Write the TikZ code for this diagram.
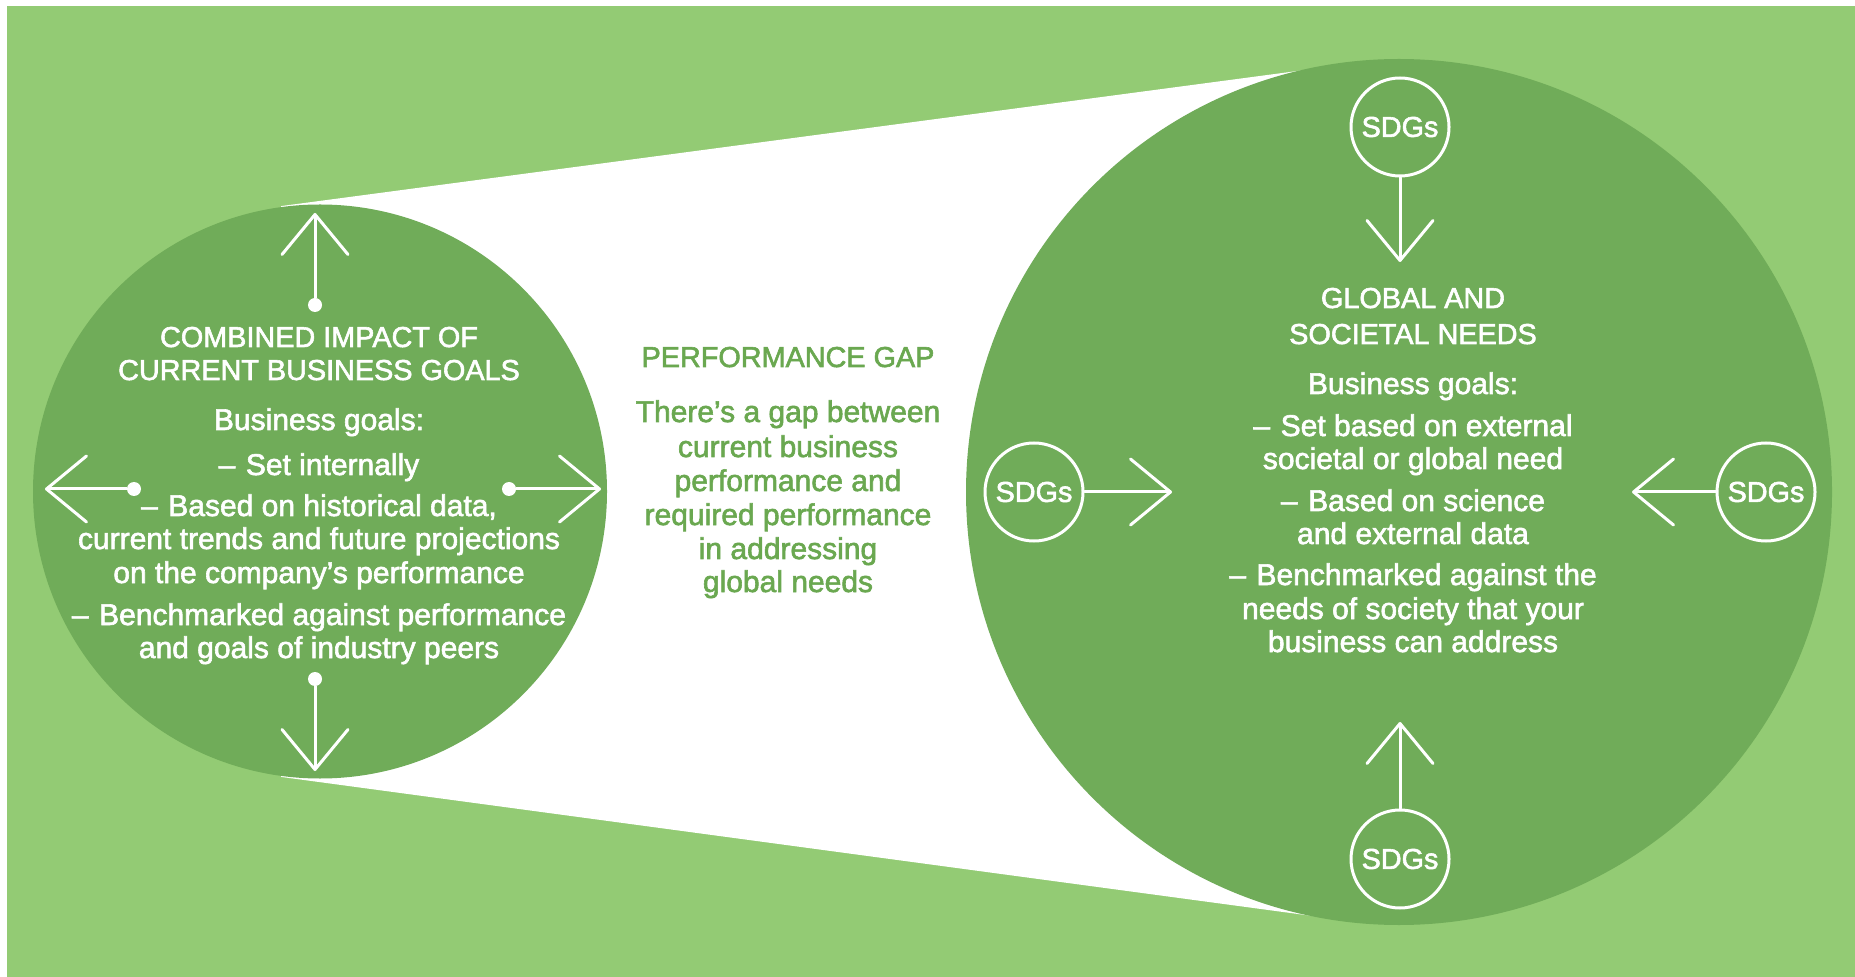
\documentclass[tikz,border=0pt]{standalone}
\usepackage{fontspec}
\setmainfont[FakeBold=2]{Liberation Sans}
\usetikzlibrary{arrows.meta}
\definecolor{bgG}{RGB}{147,203,116}
\definecolor{cG}{RGB}{112,172,89}
\definecolor{tG}{RGB}{106,168,80}
\tikzset{
  body/.style={text=white, font=\fontsize{15}{17}\selectfont, anchor=base, inner sep=0pt},
  ttl/.style={text=white, font=\fontsize{14.4}{17}\selectfont, anchor=base, inner sep=0pt},
  midttl/.style={text=tG, font=\fontsize{14.4}{17}\selectfont, anchor=base, inner sep=0pt},
  midbody/.style={text=tG, font=\fontsize{15}{17}\selectfont, anchor=base, inner sep=0pt},
  arr/.style={draw=white, line width=1.5pt, line cap=round,
    -{Straight Barb[length=20pt,width=33pt,line cap=round,line join=round]}},
  dotn/.style={circle, fill=white, minimum size=7pt, inner sep=0pt},
  sdg/.style={circle, draw=white, line width=1.5pt, minimum size=49pt, inner sep=0pt,
    text=white, font=\fontsize{14.4}{17}\selectfont},
}
\newcommand{\dsh}{–\hspace{.35em}}
\begin{document}
\begin{tikzpicture}[x=0.5pt,y=-0.5pt]
\useasboundingbox (0,0) rectangle (1855,977);
\fill[white] (0,0) rectangle (1855,977);
\fill[bgG] (7,6) rectangle (1855,977);
% performance gap wedge
\fill[white] (281,206.1) -- (1335,66) -- (1335,919) -- (281,776.9) -- cycle;
% circles
\fill[cG] (320,491.5) circle[radius=287];
\fill[cG] (1399,492) circle[radius=433];

% left circle texts
\node[ttl] (a1) at (319,347) {COMBINED IMPACT OF};
\node[ttl] (a2) at (319,380) {CURRENT BUSINESS GOALS};
\node[body] (a3) at (319,430) {Business goals:};
\node[body] (a4) at (319,475) {\dsh Set internally};
\node[body] (a5) at (319,516) {\dsh Based on historical data,};
\node[body] (a6) at (319,549) {current trends and future projections};
\node[body] (a7) at (319,583) {on the company’s performance};
\node[body] (a8) at (319,625) {\dsh Benchmarked against performance};
\node[body] (a9) at (319,658) {and goals of industry peers};

% left circle arrows
\node[dotn] (du) at (315,305) {};
\coordinate (tu) at (315,213);
\draw[arr] (du) -- (tu);
\node[dotn] (dd) at (315,679) {};
\coordinate (td) at (315,771);
\draw[arr] (dd) -- (td);
\node[dotn] (dl) at (134,489) {};
\coordinate (tl) at (45,489);
\draw[arr] (dl) -- (tl);
\node[dotn] (dr) at (509,489) {};
\coordinate (tr) at (601,489);
\draw[arr] (dr) -- (tr);

% middle texts
\node[midttl] (m1) at (788,367) {PERFORMANCE GAP};
\node[midbody] (m2) at (788,422) {There’s a gap between};
\node[midbody] (m3) at (788,457) {current business};
\node[midbody] (m4) at (788,491) {performance and};
\node[midbody] (m5) at (788,525) {required performance};
\node[midbody] (m6) at (788,559) {in addressing};
\node[midbody] (m7) at (788,592) {global needs};

% right circle texts
\node[ttl] (b1) at (1413,308) {GLOBAL AND};
\node[ttl] (b2) at (1413,344) {SOCIETAL NEEDS};
\node[body] (b3) at (1413,394) {Business goals:};
\node[body] (b4) at (1413,436) {\dsh Set based on external};
\node[body] (b5) at (1413,469) {societal or global need};
\node[body] (b6) at (1413,511) {\dsh Based on science};
\node[body] (b7) at (1413,544) {and external data};
\node[body] (b8) at (1413,585) {\dsh Benchmarked against the};
\node[body] (b9) at (1413,619) {needs of society that your};
\node[body] (b10) at (1413,652) {business can address};

% SDGs
\node[sdg] (s1) at (1400,127) {SDGs};
\coordinate (t1) at (1400,262);
\draw[arr] (s1) -- (t1);
\node[sdg] (s2) at (1400,859) {SDGs};
\coordinate (t2) at (1400,722);
\draw[arr] (s2) -- (t2);
\node[sdg] (s3) at (1034,492) {SDGs};
\coordinate (t3) at (1172,492);
\draw[arr] (s3) -- (t3);
\node[sdg] (s4) at (1766,492) {SDGs};
\coordinate (t4) at (1632,492);
\draw[arr] (s4) -- (t4);
\end{tikzpicture}
\end{document}
